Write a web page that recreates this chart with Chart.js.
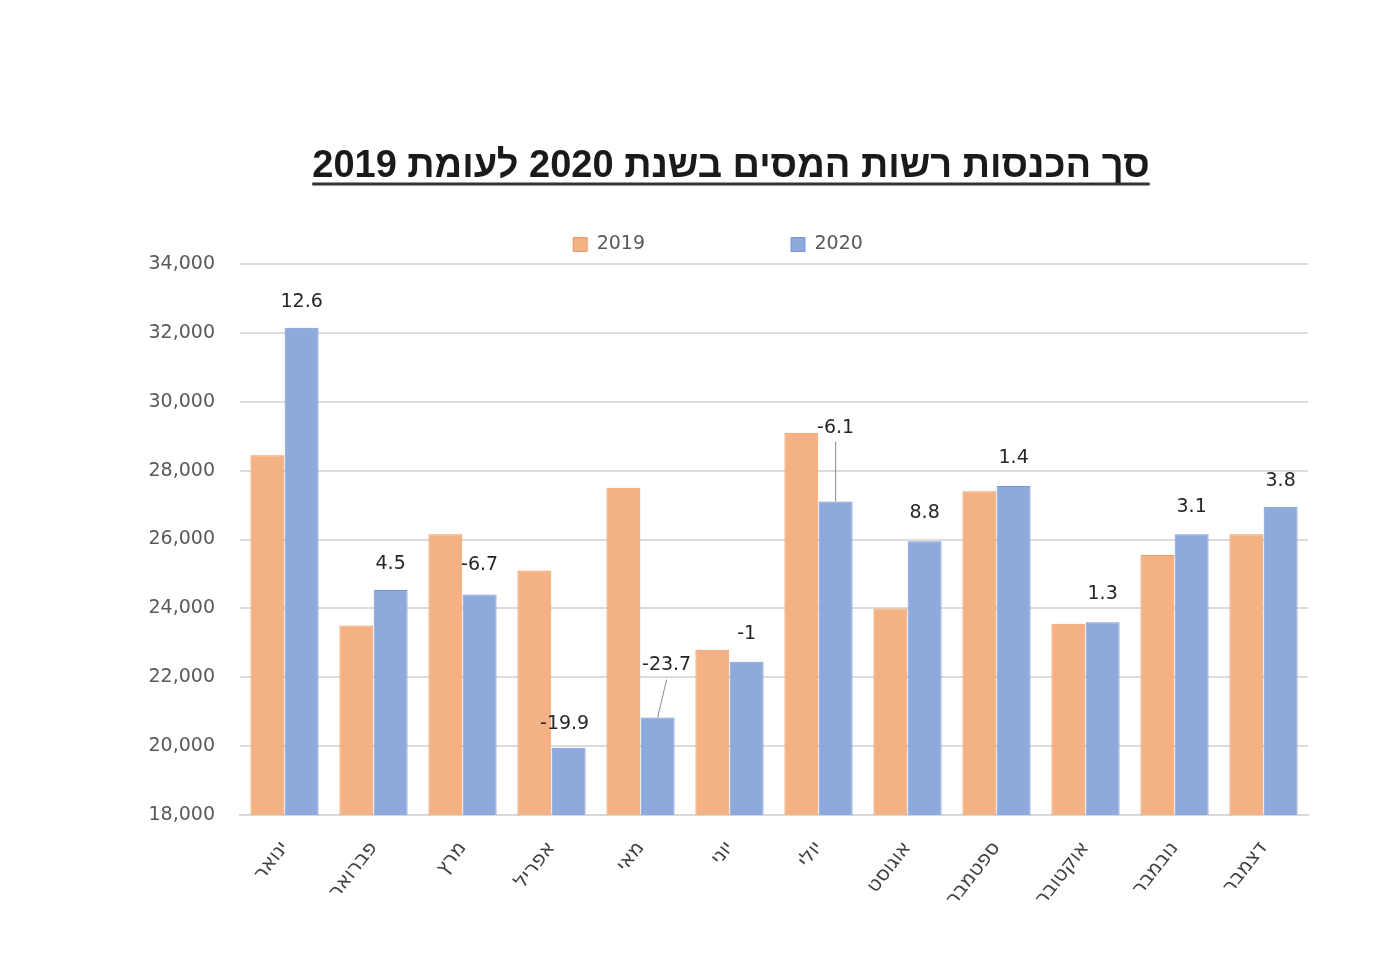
<!DOCTYPE html>
<html lang="he">
<head>
<meta charset="utf-8">
<script src="https://cdn.jsdelivr.net/npm/chart.js@4.4.1/dist/chart.umd.min.js"></script>
<style>
  html, body { margin: 0; padding: 0; background: #fff; }
  #wrap { width: 1400px; height: 966px; }
</style>
</head>
<body>
<div id="wrap"><canvas id="chart" width="1400" height="966"></canvas></div>
<script>
const chartTitle = 'סך הכנסות רשות המסים בשנת 2020 לעומת 2019';
const months = ['ינואר', 'פברואר', 'מרץ', 'אפריל', 'מאי', 'יוני', 'יולי', 'אוגוסט', 'ספטמבר', 'אוקטובר', 'נובמבר', 'דצמבר'];
const income2019 = [28450, 23500, 26150, 25100, 27500, 22800, 29100, 24000, 27400, 23550, 25550, 26150];
const income2020 = [32150, 24530, 24400, 19950, 20830, 22450, 27100, 25950, 27550, 23600, 26150, 26950];
const changePct = ['12.6', '4.5', '-6.7', '-19.9', '-23.7', '-1', '-6.1', '8.8', '1.4', '1.3', '3.1', '3.8'];

// how far above the 2020 bar each change label sits (May and July have a leader line)
const labelLift = [26, 26, 30, 24, 52, 28, 74, 28, 28, 28, 27, 26];
const labelShift = [0, 0, 0, -4, 9, 0, 0, 0, 0, 0, 0, 0];

const tickFont = { family: 'DejaVu Sans', size: 19 };

const titlePlugin = {
  id: 'underlinedTitle',
  afterDraw(chart) {
    const ctx = chart.ctx;
    ctx.save();
    ctx.direction = 'rtl';
    ctx.font = 'bold 38px "Liberation Sans", Arial, sans-serif';
    ctx.fillStyle = '#1a1a1a';
    ctx.textAlign = 'center';
    ctx.textBaseline = 'alphabetic';
    const cx = 731, by = 177;
    ctx.fillText(chartTitle, cx, by);
    const w = ctx.measureText(chartTitle).width;
    ctx.strokeStyle = '#333';
    ctx.lineWidth = 3;
    ctx.beginPath();
    ctx.moveTo(cx - w / 2, by + 7);
    ctx.lineTo(cx + w / 2, by + 7);
    ctx.stroke();
    ctx.restore();
  }
};

const changeLabels = {
  id: 'changeLabels',
  afterDatasetsDraw(chart) {
    const ctx = chart.ctx;
    const meta = chart.getDatasetMeta(1);
    ctx.save();
    ctx.direction = 'ltr';
    ctx.font = '19px "DejaVu Sans", sans-serif';
    ctx.fillStyle = '#262626';
    ctx.textAlign = 'center';
    ctx.textBaseline = 'middle';
    meta.data.forEach((bar, i) => {
      const x = bar.x + labelShift[i];
      const y = bar.y - labelLift[i];
      if (labelLift[i] > 40) {
        ctx.strokeStyle = '#8c8c8c';
        ctx.lineWidth = 1;
        ctx.beginPath();
        ctx.moveTo(bar.x, bar.y);
        ctx.lineTo(x, y + 14);
        ctx.stroke();
      }
      ctx.fillText(changePct[i], x, y);
    });
    ctx.restore();
  }
};

new Chart(document.getElementById('chart'), {
  type: 'bar',
  data: {
    labels: months,
    datasets: [
      {
        label: '2019',
        data: income2019,
        backgroundColor: 'rgb(244,177,131)',
        borderColor: 'rgb(237,150,95)',
        borderWidth: 1,
        categoryPercentage: 0.77,
        barPercentage: 0.99
      },
      {
        label: '2020',
        data: income2020,
        backgroundColor: 'rgb(142,169,219)',
        borderColor: 'rgb(118,150,212)',
        borderWidth: 1,
        categoryPercentage: 0.77,
        barPercentage: 0.99
      }
    ]
  },
  options: {
    responsive: false,
    animation: false,
    devicePixelRatio: 1,
    layout: { padding: { top: 89, left: 128, right: 92, bottom: 0 } },
    plugins: {
      title: { display: false },
      tooltip: { enabled: false },
      legend: {
        position: 'top',
        labels: {
          boxWidth: 14,
          boxHeight: 14,
          padding: 146,
          color: '#595959',
          font: tickFont
        }
      }
    },
    scales: {
      x: {
        grid: { display: false },
        border: { display: true, color: '#d9d9d9', width: 2 },
        ticks: {
          color: '#404040',
          font: { family: 'DejaVu Sans', size: 20 },
          minRotation: 52,
          maxRotation: 52,
          padding: 14
        },
        afterFit(scale) { scale.height = 151; }
      },
      y: {
        min: 18000,
        max: 34000,
        grid: { color: '#dcdcdc', lineWidth: 2, drawTicks: false },
        border: { display: false },
        ticks: {
          stepSize: 2000,
          color: '#595959',
          font: tickFont,
          padding: 25,
          callback: v => v.toLocaleString('en-US')
        },
        afterFit(scale) { scale.width = 112; }
      }
    }
  },
  plugins: [titlePlugin, changeLabels]
});
</script>
</body>
</html>
